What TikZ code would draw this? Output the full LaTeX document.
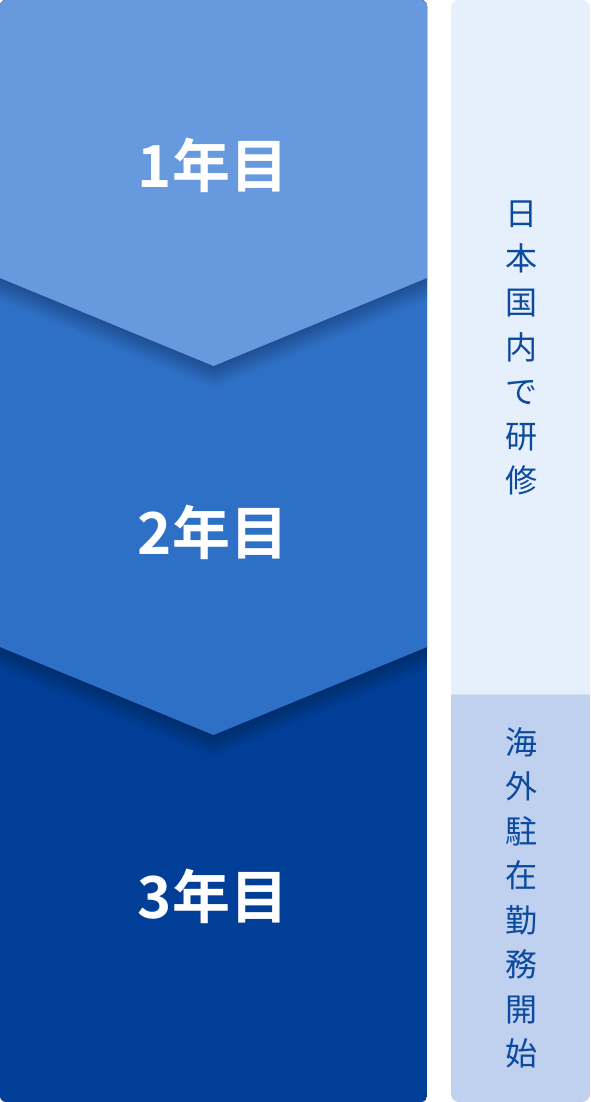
\documentclass[tikz,border=0pt]{standalone}
\usepackage{fontspec}
\newfontfamily\jpbold{Noto Sans CJK JP Bold}
\newfontfamily\jpreg{Noto Sans CJK JP}
\definecolor{cTop}{HTML}{6699DD}
\definecolor{cMid}{HTML}{2F70C7}
\definecolor{cBot}{HTML}{003E98}
\definecolor{cRTop}{HTML}{E6F0FD}
\definecolor{cRBot}{HTML}{BFD1EE}
\definecolor{cTxt}{HTML}{0B4A9E}
\tikzset{
  yearlabel/.style={text=white,font=\jpbold\fontsize{58}{60}\selectfont,inner sep=0pt,anchor=center},
  vlabel/.style={text=cTxt,font=\jpreg\fontsize{32}{44.5}\selectfont,align=center,inner sep=0pt,anchor=center},
}
\begin{document}
\begin{tikzpicture}[x=1pt,y=-1pt]
\useasboundingbox (0,0) rectangle (590,1102);
% left column
\begin{scope}
\clip[rounded corners=6pt] (0,0) rectangle (427,1102);
\fill[cBot] (0,0) rectangle (427,1102);
% shadow of middle chevron
\foreach \k in {1,...,16}{
  \fill[black,opacity=0.014] (0,0) -- (427,0) -- (427,647+1.4*\k) -- (213.5,735+1.4*\k) -- (0,647+1.4*\k) -- cycle;
}
\fill[cMid] (0,0) -- (427,0) -- (427,647) -- (213.5,735) -- (0,647) -- cycle;
% shadow of top chevron
\foreach \k in {1,...,16}{
  \fill[black,opacity=0.014] (0,0) -- (427,0) -- (427,278+1.4*\k) -- (213.5,366+1.4*\k) -- (0,278+1.4*\k) -- cycle;
}
\fill[cTop] (0,0) -- (427,0) -- (427,278) -- (213.5,366) -- (0,278) -- cycle;
\end{scope}
\node[yearlabel] (y1) at (213,165) {1年目};
\node[yearlabel] (y2) at (213,532) {2年目};
\node[yearlabel] (y3) at (213,896) {3年目};
% right column
\begin{scope}
\clip[rounded corners=8pt] (451,0) rectangle (590,1102);
\fill[cRTop] (451,0) rectangle (590,694);
\fill[cRBot] (451,694) rectangle (590,1102);
\draw[white,opacity=0.35,line width=1pt] (451,694) -- (590,694);
\end{scope}
\node[vlabel] (r1) at (521,348) {日\\本\\国\\内\\で\\研\\修};
\node[vlabel] (r2) at (521,898) {海\\外\\駐\\在\\勤\\務\\開\\始};
\end{tikzpicture}
\end{document}
